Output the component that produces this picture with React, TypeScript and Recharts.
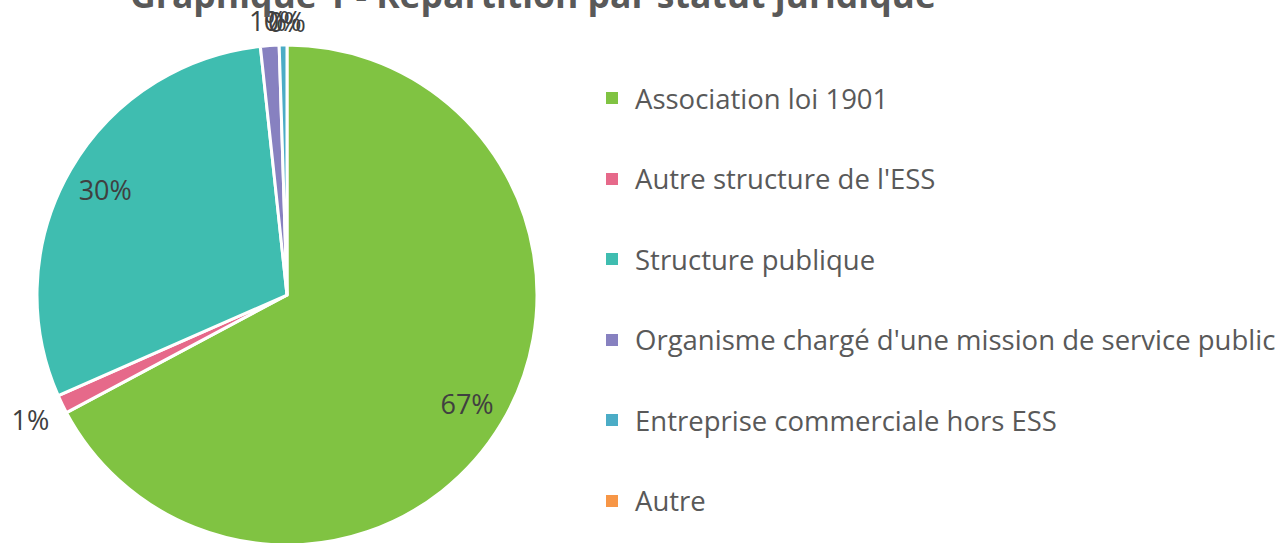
import { Cell, Pie, PieChart } from "recharts";

const categories = [
  "Association loi 1901",
  "Autre structure de l'ESS",
  "Structure publique",
  "Organisme chargé d'une mission de service public",
  "Entreprise commerciale hors ESS",
  "Autre",
];

const shares = [67.2, 1.2, 29.9, 1.2, 0.5, 0.0];

const colors = ["#80C342", "#E6698A", "#3FBDB0", "#8781C0", "#4BACC6", "#F79646"];

const data = categories.map((name, i) => ({ name, value: shares[i] }));
const total = shares.reduce((a, b) => a + b, 0);

const RAD = Math.PI / 180;
const FONT = "'Open Sans', sans-serif";

function renderLabel(props: any) {
  const { cx, cy, midAngle, outerRadius, value } = props;
  const pct = value / total;
  const dx = Math.cos(-midAngle * RAD);
  const dy = Math.sin(-midAngle * RAD);
  // small slices get their label outside, like Excel's "best fit"
  const r =
    pct > 0.05
      ? outerRadius * 0.84
      : outerRadius + 12 + Math.abs(dx) * 20 + Math.abs(dy) * 12;
  return (
    <text
      x={cx + r * dx}
      y={cy + r * dy}
      fill="#404040"
      fontSize={27}
      fontFamily={FONT}
      textAnchor="middle"
      dominantBaseline="central"
    >
      {Math.round(pct * 100)}%
    </text>
  );
}

function LegendList() {
  return (
    <div
      style={{
        position: "absolute",
        left: 606,
        top: 58,
        fontFamily: FONT,
      }}
    >
      {categories.map((name, i) => (
        <div
          key={name}
          style={{
            display: "flex",
            alignItems: "center",
            height: 80.5,
            whiteSpace: "nowrap",
          }}
        >
          <span
            style={{
              width: 12,
              height: 12,
              background: colors[i],
              marginRight: 17,
              flexShrink: 0,
            }}
          />
          <span style={{ fontSize: 27.5, color: "#595959" }}>{name}</span>
        </div>
      ))}
    </div>
  );
}

export default function App() {
  return (
    <div
      style={{
        position: "absolute",
        left: 0,
        top: 0,
        width: 1286,
        height: 543,
        background: "#fff",
        overflow: "hidden",
      }}
    >
      <svg
        width={1286}
        height={40}
        style={{ position: "absolute", left: 0, top: 0, zIndex: 2 }}
      >
        <text
          x={533}
          y={8}
          textAnchor="middle"
          fill="#595959"
          fontSize={35.5}
          fontWeight="bold"
          fontFamily={FONT}
        >
          Graphique 1 - Répartition par statut juridique
        </text>
      </svg>
      <PieChart
        width={1286}
        height={543}
        margin={{ top: 0, right: 0, bottom: 0, left: 0 }}
        style={{ position: "absolute", left: 0, top: 0 }}
      >
        <Pie
          data={data}
          dataKey="value"
          nameKey="name"
          cx={287}
          cy={295}
          outerRadius={250}
          startAngle={90}
          endAngle={-270}
          stroke="#fff"
          strokeWidth={3}
          label={renderLabel}
          labelLine={false}
          isAnimationActive={false}
        >
          {data.map((d, i) => (
            <Cell key={d.name} fill={colors[i]} />
          ))}
        </Pie>
      </PieChart>
      <LegendList />
    </div>
  );
}
